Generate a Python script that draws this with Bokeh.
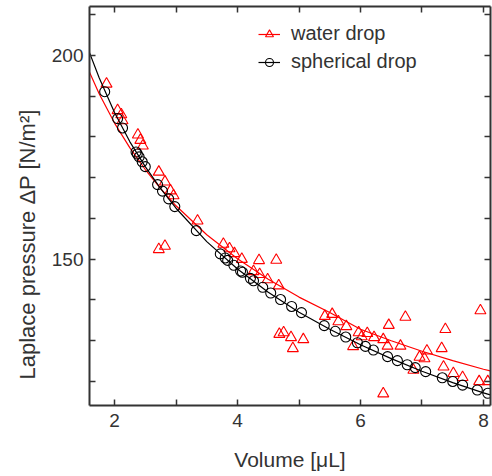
from bokeh.plotting import figure
from bokeh.models import FixedTicker, LinearAxis, Range1d, Title, Legend, LegendItem
from bokeh.embed import file_html
from bokeh.resources import INLINE

# ---- data ----
sphere_x = [1.84, 2.05, 2.13, 2.35, 2.37, 2.40, 2.45, 2.50, 2.70, 2.78, 2.88, 2.98,
            3.33, 3.72, 3.80, 3.84, 3.94, 4.05, 4.08, 4.21, 4.26, 4.41, 4.54, 4.70,
            4.88, 5.04, 5.41, 5.59, 5.76, 5.95, 6.08, 6.21, 6.44, 6.60, 6.76, 6.89,
            7.06, 7.33, 7.50, 7.66, 7.90, 8.07]
sphere_y = [191.1, 184.5, 182.2, 176.3, 175.8, 175.1, 173.9, 172.7, 168.3, 166.7, 164.8, 162.9,
            157.0, 151.3, 150.3, 149.7, 148.5, 147.1, 146.8, 145.3, 144.7, 143.1, 141.7, 140.1,
            138.4, 136.9, 133.7, 132.3, 130.9, 129.5, 128.6, 127.7, 126.1, 125.1, 124.1, 123.4,
            122.4, 120.9, 120.0, 119.1, 117.9, 117.1]

water_x = [1.87, 2.05, 2.11, 2.13, 2.38, 2.42, 2.46, 2.72, 2.82, 2.91, 2.96, 3.35,
           2.72, 2.82, 3.77, 3.87, 3.95, 4.07, 4.35, 4.63, 4.26, 4.36, 4.49, 4.67,
           4.68, 4.75, 4.87, 4.90, 5.07, 5.42, 5.54, 5.64, 5.77, 5.88, 5.97, 6.02,
           6.11, 6.22, 6.37, 6.44, 6.46, 6.73, 6.37, 6.65, 6.86, 6.96, 7.04, 7.08,
           7.32, 7.38, 7.35, 7.51, 7.66, 7.93, 8.07, 7.95]
water_y = [193.0, 186.5, 185.5, 184.0, 180.5, 179.2, 177.8, 171.4, 169.0, 166.8, 165.6, 159.4,
           152.4, 153.2, 153.7, 152.6, 151.4, 150.0, 149.7, 149.8, 147.0, 146.3, 145.0, 143.5,
           131.6, 132.0, 130.8, 128.1, 130.3, 136.0, 136.5, 134.7, 133.5, 128.6, 132.0, 131.0,
           131.8, 130.8, 130.3, 128.7, 133.8, 135.8, 117.0, 128.7, 122.8, 126.0, 125.6, 127.5,
           128.1, 132.8, 123.6, 122.0, 121.0, 120.0, 120.0, 137.4]

fit_x = [1.59, 1.75, 2.0, 2.25, 2.5, 2.75, 3.0, 3.5, 4.0, 4.5, 5.0, 5.5, 6.0, 6.5, 7.0, 7.5, 8.0, 8.11]
sphere_fit = [200.8, 194.5, 186.0, 178.8, 172.7, 167.3, 162.5, 154.3, 147.6, 141.9, 137.0,
              132.8, 129.0, 125.6, 122.5, 119.7, 117.2, 116.7]
water_fit = [196.0, 190.6, 183.4, 177.3, 172.0, 167.3, 163.1, 156.0, 150.1, 145.1, 140.7,
             136.9, 132.8, 130.0, 127.4, 125.1, 123.0, 122.6]

x_major = [2, 4, 6, 8]
x_minor = [3, 5, 7]
y_major = [150, 200]
y_minor = [120, 130, 140, 160, 170, 180, 190, 210]

FONT = "Liberation Sans"
TXT = "#333333"
AX = "#333333"

p = figure(width=492, height=476, output_backend="svg", toolbar_location=None,
           x_range=Range1d(1.593, 8.114), y_range=Range1d(114.1, 212.0),
           min_border_left=89, min_border_right=2, min_border_top=6, min_border_bottom=71)
p.grid.visible = False
p.outline_line_color = None

r_wl = p.line(fit_x, water_fit, line_color="#ff0000", line_width=1.2)
r_wp = p.scatter(water_x, water_y, marker="triangle", size=11, line_color="#ff0000",
                 fill_color=None, line_width=1.1)
r_sl = p.line(fit_x, sphere_fit, line_color="black", line_width=1.2)
r_sp = p.scatter(sphere_x, sphere_y, marker="circle", size=10, line_color="black",
                 fill_color=None, line_width=1.1)

legend = Legend(items=[LegendItem(label="water drop", renderers=[r_wl, r_wp]),
                       LegendItem(label="spherical drop", renderers=[r_sl, r_sp])],
                location=(169, 332), padding=0, margin=0, spacing=5,
                glyph_width=22, glyph_height=20, label_height=20, label_standoff=11,
                border_line_color=None, background_fill_alpha=0,
                label_text_font=FONT, label_text_font_size="20px", label_text_color=TXT)
p.add_layout(legend)


def style(ax):
    ax.axis_line_width = 2
    ax.axis_line_color = AX
    ax.major_tick_in = 6
    ax.major_tick_out = 0
    ax.minor_tick_in = 6
    ax.minor_tick_out = 0
    ax.major_tick_line_color = AX
    ax.minor_tick_line_color = AX
    ax.major_tick_line_width = 1.5
    ax.minor_tick_line_width = 1.5
    ax.major_label_text_font = FONT
    ax.major_label_text_font_size = "19px"
    ax.major_label_text_color = TXT


xa = p.xaxis[0]
xa.ticker = FixedTicker(ticks=x_major, minor_ticks=x_minor)
style(xa)
xa.major_label_standoff = 8
xa.axis_label = "Volume [μL]"
xa.axis_label_text_font = FONT
xa.axis_label_text_font_size = "21px"
xa.axis_label_text_font_style = "normal"
xa.axis_label_text_color = TXT
xa.axis_label_standoff = 18

ya = p.yaxis[0]
ya.ticker = FixedTicker(ticks=y_major, minor_ticks=y_minor)
style(ya)
ya.major_label_standoff = 6

top = LinearAxis(ticker=FixedTicker(ticks=[], minor_ticks=x_major + x_minor))
style(top)
top.major_label_standoff = 0
p.add_layout(top, "above")

right = LinearAxis(ticker=FixedTicker(ticks=[], minor_ticks=y_major + y_minor))
style(right)
right.major_label_standoff = 0
p.add_layout(right, "right")

ytitle = Title(text="Laplace pressure ΔP [N/m²]", align="left", offset=26,
               text_font=FONT, text_font_size="22px", text_font_style="normal",
               text_color=TXT, standoff=18)
p.add_layout(ytitle, "left")

open("out.html", "w").write(file_html(p, INLINE))
